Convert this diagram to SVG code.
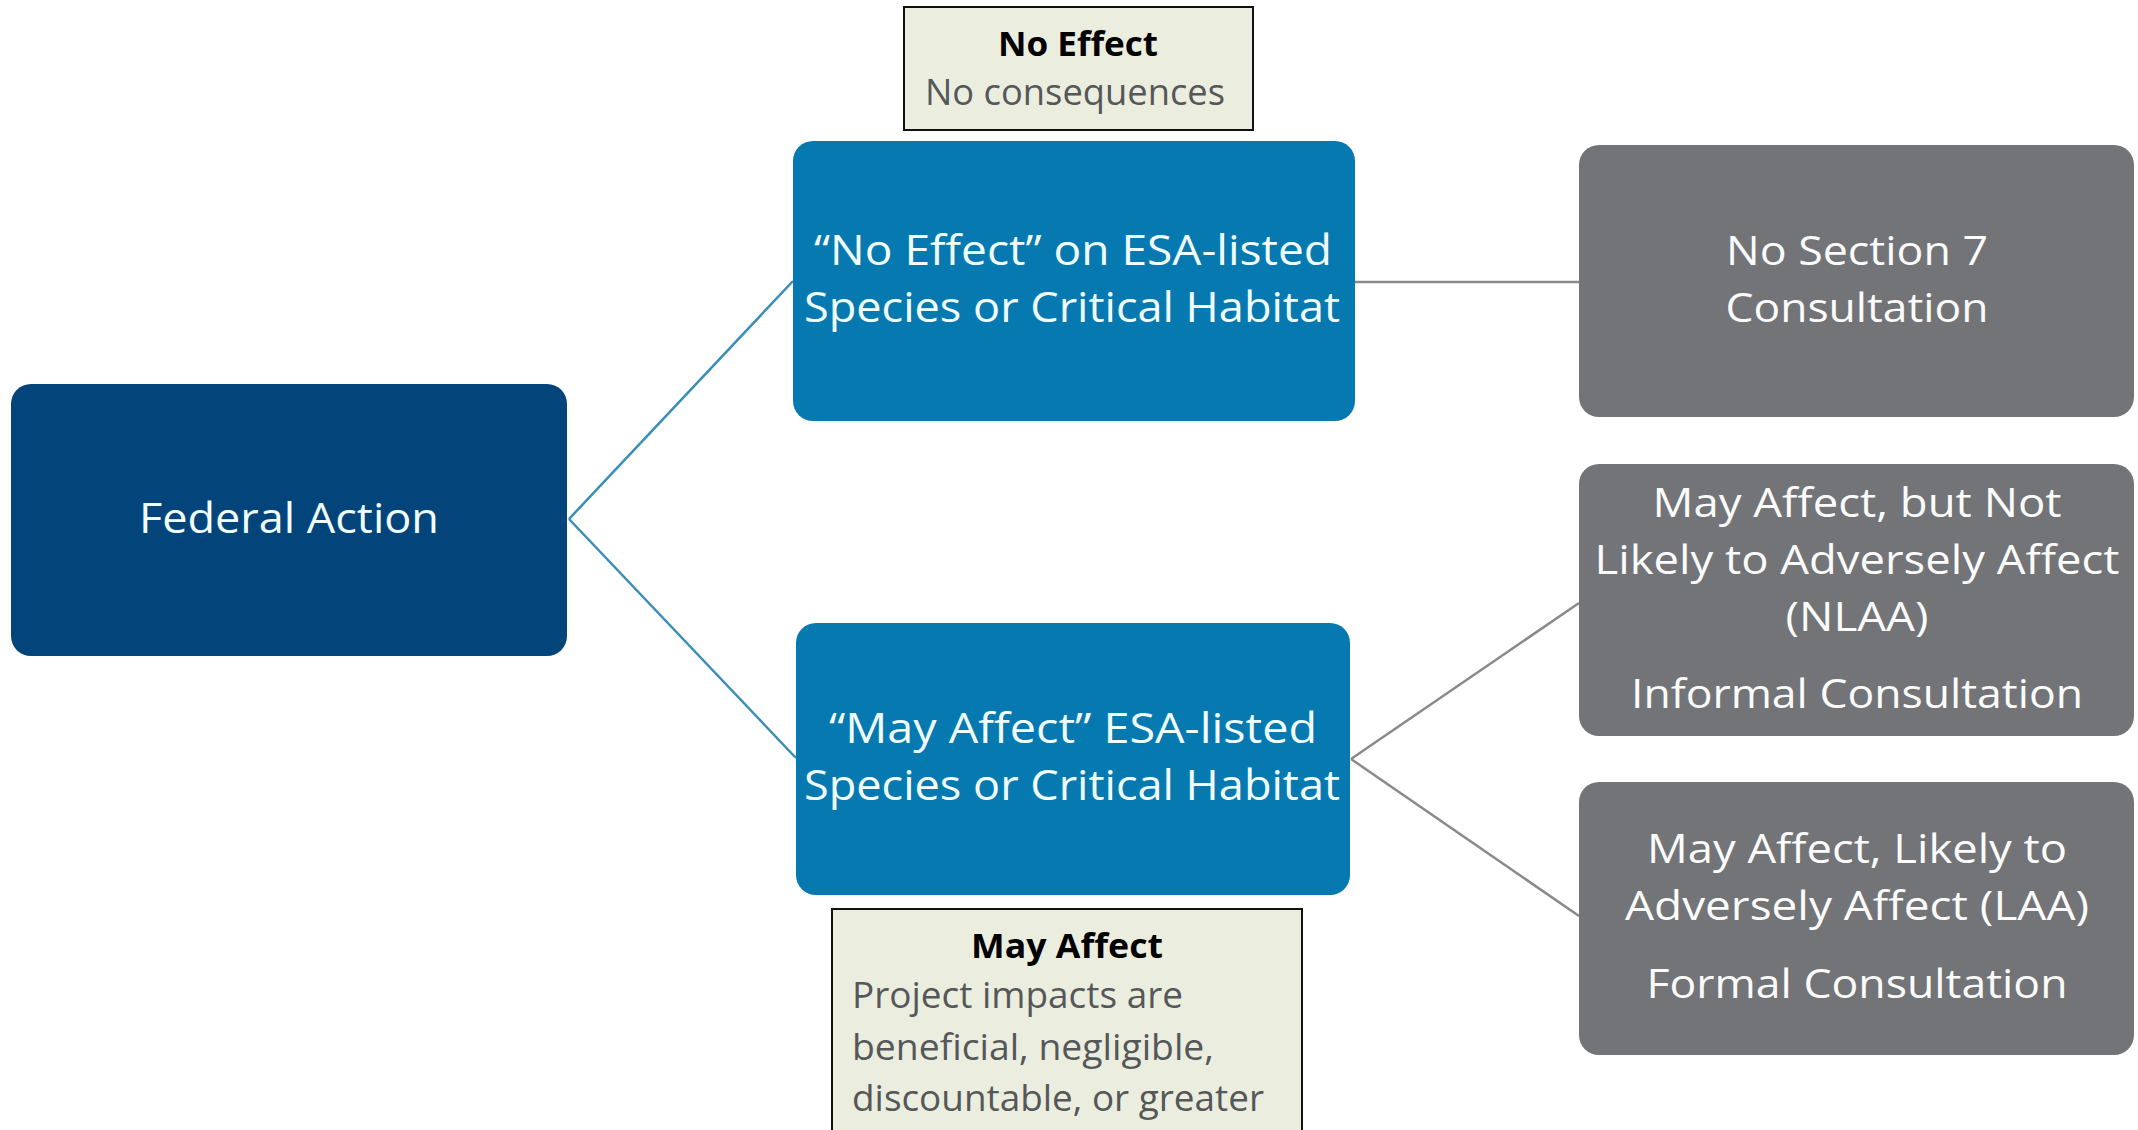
<svg xmlns="http://www.w3.org/2000/svg" width="2138" height="1130" viewBox="0 0 2138 1130">
<style>
.bg{fill:#ffffff}
.fed{fill:#03457a}
.blue{fill:#0779b1}
.gray{fill:#727477}
.note{fill:#ebeedf;stroke:#111111;stroke-width:2}
.wt{fill:#fbfbfb;font-family:"Open Sans","Liberation Sans",sans-serif;font-weight:500;text-anchor:middle;font-size:41px}
.bt{fill:#f2ffff;font-family:"Open Sans","Liberation Sans",sans-serif;font-weight:500;text-anchor:middle;font-size:42px}
.nh{fill:#000000;font-family:"Open Sans","Liberation Sans",sans-serif;font-weight:bold;text-anchor:middle;font-size:34px}
.nb{fill:#555759;font-family:"Open Sans","Liberation Sans",sans-serif;font-size:36px}
.cb{stroke:#3a8db6;stroke-width:2.5;fill:none}
.cg{stroke:#8a8a8a;stroke-width:2.5;fill:none}
</style>
<rect class="bg" x="0" y="0" width="2138" height="1130"/>
<g id="connectors">
<line class="cb" x1="569" y1="519" x2="793" y2="281"/>
<line class="cb" x1="569" y1="519" x2="796" y2="758"/>
<line class="cg" x1="1355" y1="282" x2="1579" y2="282"/>
<line class="cg" x1="1351" y1="759" x2="1579" y2="603"/>
<line class="cg" x1="1351" y1="759" x2="1579" y2="916"/>
</g>
<g id="federal-action">
<rect class="fed" x="11" y="384" width="556" height="272" rx="20"/>
<text class="bt" x="289" y="533" textLength="300" lengthAdjust="spacingAndGlyphs">Federal Action</text>
</g>
<g id="no-effect">
<rect class="blue" x="793" y="141" width="562" height="280" rx="20"/>
<text class="bt" x="1073" y="265" textLength="518" lengthAdjust="spacingAndGlyphs">“No Effect” on ESA-listed</text>
<text class="bt" x="1072" y="322" textLength="536" lengthAdjust="spacingAndGlyphs">Species or Critical Habitat</text>
</g>
<g id="may-affect">
<rect class="blue" x="796" y="623" width="554" height="272" rx="20"/>
<text class="bt" x="1073" y="743" textLength="488" lengthAdjust="spacingAndGlyphs">“May Affect” ESA-listed</text>
<text class="bt" x="1072" y="800" textLength="536" lengthAdjust="spacingAndGlyphs">Species or Critical Habitat</text>
</g>
<g id="no-effect-note">
<rect class="note" x="904" y="7" width="349" height="123"/>
<text class="nh" x="1078" y="56" textLength="160" lengthAdjust="spacingAndGlyphs">No Effect</text>
<text class="nb" x="1075" y="105" text-anchor="middle" textLength="300" lengthAdjust="spacingAndGlyphs">No consequences</text>
</g>
<g id="may-affect-note">
<rect class="note" x="832" y="909" width="470" height="240"/>
<text class="nh" x="1067" y="958" textLength="192" lengthAdjust="spacingAndGlyphs">May Affect</text>
<text class="nb" x="852" y="1008" textLength="331" lengthAdjust="spacingAndGlyphs">Project impacts are</text>
<text class="nb" x="852" y="1060" textLength="362" lengthAdjust="spacingAndGlyphs">beneficial, negligible,</text>
<text class="nb" x="852" y="1111" textLength="412" lengthAdjust="spacingAndGlyphs">discountable, or greater</text>
</g>
<g id="no-section-7">
<rect class="gray" x="1579" y="145" width="555" height="272" rx="20"/>
<text class="wt" x="1857" y="265" textLength="262" lengthAdjust="spacingAndGlyphs">No Section 7</text>
<text class="wt" x="1857" y="322" textLength="263" lengthAdjust="spacingAndGlyphs">Consultation</text>
</g>
<g id="nlaa">
<rect class="gray" x="1579" y="464" width="555" height="272" rx="20"/>
<text class="wt" x="1857" y="517" textLength="409" lengthAdjust="spacingAndGlyphs">May Affect, but Not</text>
<text class="wt" x="1857" y="574" textLength="525" lengthAdjust="spacingAndGlyphs">Likely to Adversely Affect</text>
<text class="wt" x="1857" y="631" textLength="143" lengthAdjust="spacingAndGlyphs">(NLAA)</text>
<text class="wt" x="1857" y="708" textLength="452" lengthAdjust="spacingAndGlyphs">Informal Consultation</text>
</g>
<g id="laa">
<rect class="gray" x="1579" y="782" width="555" height="273" rx="20"/>
<text class="wt" x="1857" y="863" textLength="420" lengthAdjust="spacingAndGlyphs">May Affect, Likely to</text>
<text class="wt" x="1857" y="920" textLength="464" lengthAdjust="spacingAndGlyphs">Adversely Affect (LAA)</text>
<text class="wt" x="1857" y="998" textLength="421" lengthAdjust="spacingAndGlyphs">Formal Consultation</text>
</g>
</svg>
